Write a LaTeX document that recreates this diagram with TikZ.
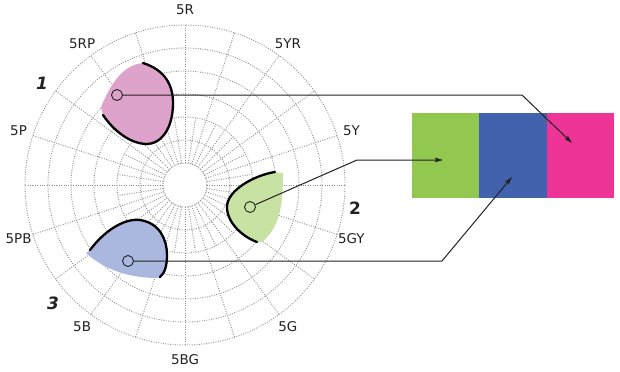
\documentclass[tikz,border=0pt]{standalone}
\usepackage{fontspec}
\setmainfont{DejaVu Sans}
\usetikzlibrary{arrows.meta}
\definecolor{gridc}{HTML}{8C8C8C}
\definecolor{inkc}{HTML}{222222}
\definecolor{pinkfill}{HTML}{DDA3CB}
\definecolor{greenfill}{HTML}{C8E2A4}
\definecolor{bluefill}{HTML}{AAB8E0}
\definecolor{barGreen}{HTML}{92C850}
\definecolor{barBlue}{HTML}{4262AE}
\definecolor{barPink}{HTML}{EE3496}
\tikzset{
  gridline/.style={draw=gridc, line width=0.9bp, dash pattern=on 0.9bp off 1.5bp},
  rim/.style={draw=black, line width=2.3bp, line cap=round},
  marker/.style={circle, draw=inkc, line width=0.9bp, minimum size=11bp, inner sep=0pt},
  conn/.style={draw=inkc, line width=1bp, -{Stealth[length=8bp,width=4.5bp,inset=1bp]}},
  bar/.style={minimum width=67.33bp, minimum height=85bp, inner sep=0pt, draw=none},
  hue/.style={text=inkc, font=\fontsize{13.5}{15}\selectfont, inner sep=0pt},
  num/.style={text=inkc, font=\fontsize{17}{19}\selectfont\bfseries, inner sep=0pt}
}
\begin{document}
\begin{tikzpicture}[x=1bp,y=1bp]
\useasboundingbox[fill=white] (-185,-186) rectangle (435,185);
% grid
\foreach \r in {22,45,68,91,114,137,160} \draw[gridline] (0,0) circle (\r);
\foreach \a in {0,18,...,342} \draw[gridline] (\a:22) -- (\a:160);
\foreach \a in {9,27,...,351} \draw[gridline] (\a:22) -- (\a:68);
% blob 1 (pink)
\fill[pinkfill] (-42,122) .. controls (-20,115) and (-12,100) .. (-12,82)
  .. controls (-12,55) and (-25,41) .. (-38,41)
  .. controls (-55,41) and (-72,55) .. (-82,70)
  -- (-84,78) .. controls (-76,97) and (-64,120) .. (-42,122) -- cycle;
\draw[rim] (-42,122) .. controls (-20,115) and (-12,100) .. (-12,82)
  .. controls (-12,55) and (-25,41) .. (-38,41)
  .. controls (-55,41) and (-72,55) .. (-82,70);
% blob 2 (green)
\fill[greenfill] (90,13) .. controls (70,10) and (42,-5) .. (42,-22)
  .. controls (42,-38) and (58,-52) .. (72,-57)
  -- (77,-57) .. controls (95,-42) and (98,-20) .. (98,12) -- cycle;
\draw[rim] (90,13) .. controls (70,10) and (42,-5) .. (42,-22)
  .. controls (42,-38) and (58,-52) .. (72,-57);
% blob 3 (blue)
\fill[bluefill] (-95,-65) .. controls (-80,-45) and (-60,-33) .. (-45,-35)
  .. controls (-25,-38) and (-18,-55) .. (-18,-70)
  .. controls (-18,-80) and (-20,-88) .. (-25,-92)
  -- (-28,-93) .. controls (-55,-93) and (-80,-85) .. (-99,-68) -- cycle;
\draw[rim] (-95,-65) .. controls (-80,-45) and (-60,-33) .. (-45,-35)
  .. controls (-25,-38) and (-18,-55) .. (-18,-70)
  .. controls (-18,-80) and (-20,-88) .. (-25,-92);
% markers
\node[marker] (m1) at (-68,90) {};
\node[marker] (m2) at (65,-22) {};
\node[marker] (m3) at (-57,-76) {};
% colour bar
\node[bar, fill=barGreen] (cg) at (260.67,29.5) {};
\node[bar, fill=barBlue] (cb) at (328,29.5) {};
\node[bar, fill=barPink] (cp) at (395.33,29.5) {};
% connectors
\coordinate (b1) at (337,90);
\coordinate (t1) at (387,42);
\coordinate (b2) at (172,25);
\coordinate (t2) at (258,25);
\coordinate (b3) at (257,-76);
\coordinate (t3) at (327,8);
\draw[conn] (m1.east) -- (b1) -- (t1);
\draw[conn] (m2) -- (b2) -- (t2);
\draw[conn] (m3.east) -- (b3) -- (t3);
% hue labels
\foreach \lab [count=\i from 0] in {5R,5YR,5Y,5GY,5G,5BG,5B,5PB,5P,5RP}
  \node[hue] (h\i) at ({90-36*\i}:175) {\lab};
% numbers
\node[num, font=\fontsize{17}{19}\selectfont\bfseries\itshape] (n1) at (-143,102) {1};
\node[num] (n2) at (170,-23) {2};
\node[num, font=\fontsize{17}{19}\selectfont\bfseries\itshape] (n3) at (-132,-118) {3};
\end{tikzpicture}
\end{document}
